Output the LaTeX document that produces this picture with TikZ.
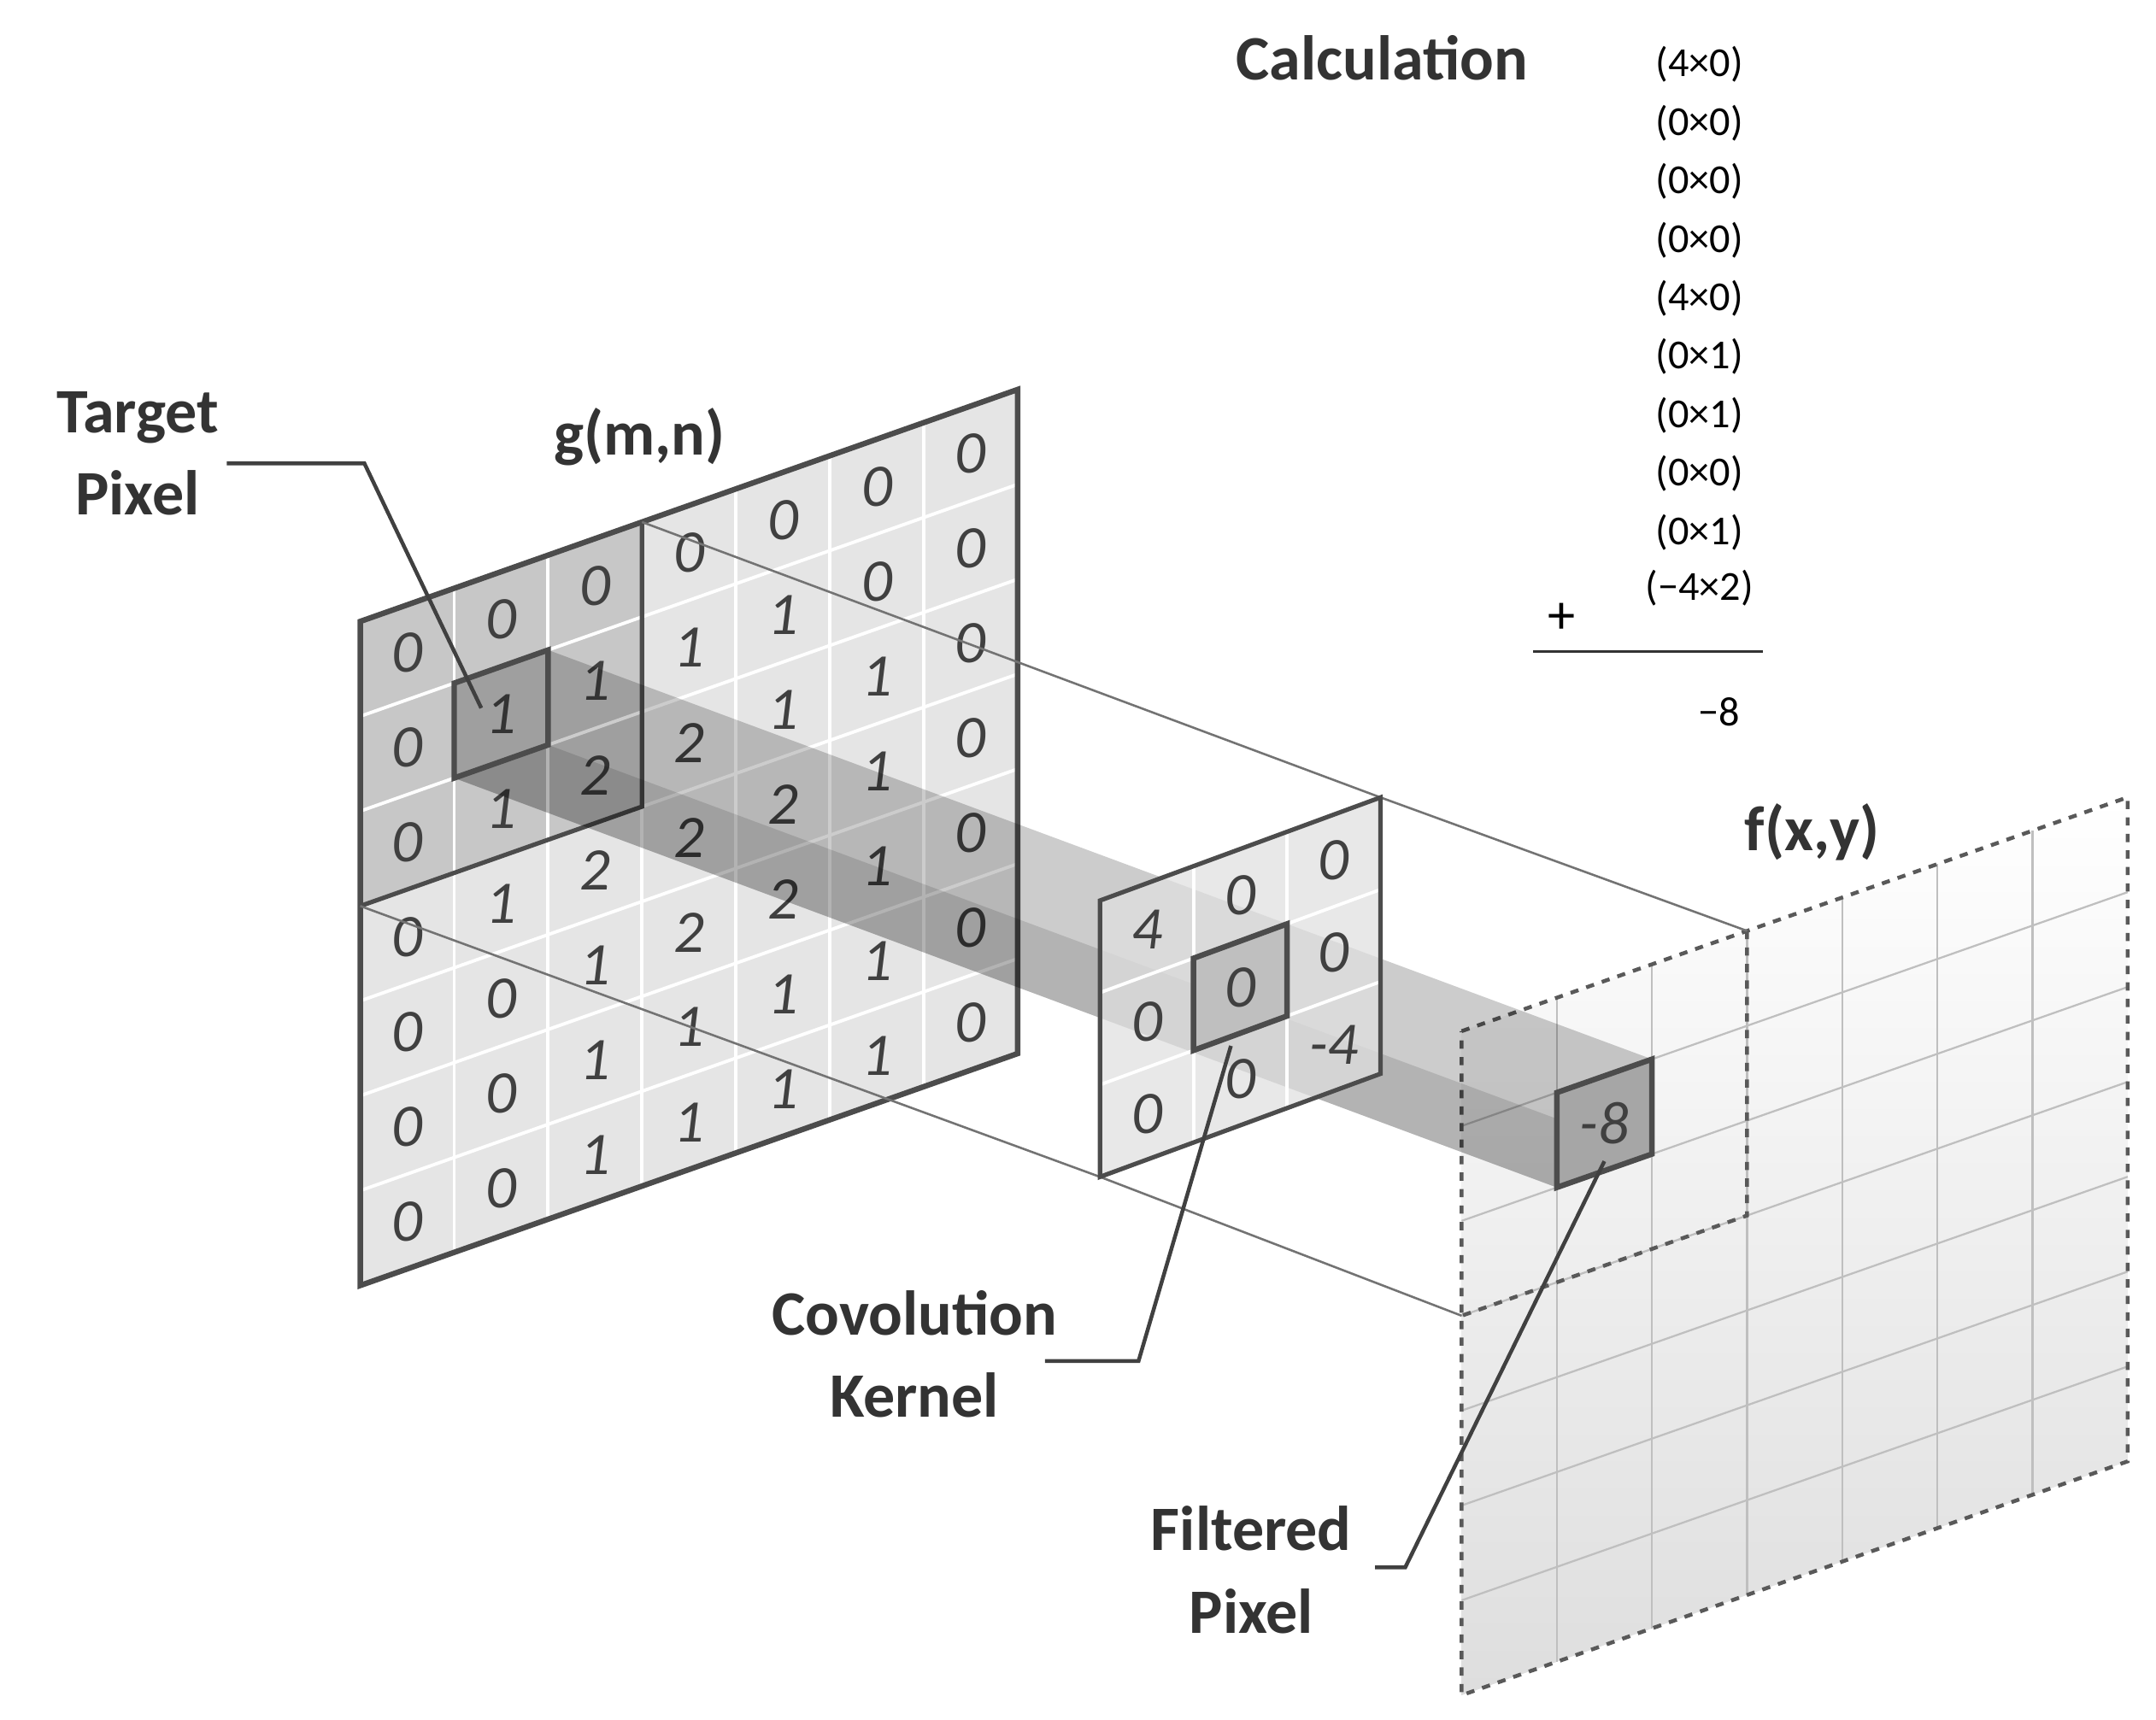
\documentclass[tikz,border=0pt]{standalone}
\usepackage{fontspec}
\setmainfont{Carlito}
\begin{document}
\begin{tikzpicture}[x=0.5pt,y=-0.5pt,
  dig/.style={font=\fontsize{22}{24}\selectfont\itshape, text=black!75},
  lab/.style={font=\fontsize{23}{26}\selectfont\bfseries, text=black!80, align=center},
  calc/.style={font=\fontsize{15}{17}\selectfont, text=black},
  frame/.style={draw=black!70, line width=1.6pt},
  proj/.style={draw=black!55, line width=0.8pt},
  leader/.style={draw=black!75, line width=1.4pt}]
\useasboundingbox (0,0) rectangle (1568,1251);

% ---------- g(m,n)
\begin{scope}[shift={(262,452)}, x={(34.15pt,12.05pt)}, y={(0pt,-34.5pt)}]
  \fill[black!10] (0,0)--(7,0)--(7,7)--(0,7)--cycle;
  \fill[black!22] (0,0)--(3,0)--(3,3)--(0,3)--cycle;
  \foreach \i in {1,...,6} {
    \draw[white, line width=1.2pt] (\i,0)--(\i,7);
    \draw[white, line width=1.2pt] (0,\i)--(7,\i);
  }
  \draw[frame] (0,0)--(3,0)--(3,3)--(0,3)--cycle;
  \draw[frame, line width=2pt] (0,0)--(7,0)--(7,7)--(0,7)--cycle;
  \coordinate (g11) at (1,1); \coordinate (g21) at (2,1);
  \coordinate (g22) at (2,2); \coordinate (g12) at (1,2);
  \coordinate (g30) at (3,0); \coordinate (g03) at (0,3);
  \foreach \r/\vals in {0/{0,0,0,0,0,0,0},1/{0,1,1,1,1,0,0},2/{0,1,2,2,1,1,0},
      3/{0,1,2,2,2,1,0},4/{0,0,1,2,2,1,0},5/{0,0,1,1,1,1,0},6/{0,0,1,1,1,1,0}}
    \foreach \v [count=\c from 0] in \vals
      \node[dig] (g-\r-\c) at (\c+.5,\r+.5) {\v};
\end{scope}

% ---------- kernel coords / output coords
\begin{scope}[shift={(800,655)}, x={(34pt,12.5pt)}, y={(0pt,-33.5pt)}]
  \coordinate (k30) at (3,0); \coordinate (k03) at (0,3);
\end{scope}
\begin{scope}[shift={(1063,750)}, x={(34.6pt,12.15pt)}, y={(0pt,-34.5pt)}]
  \coordinate (o11) at (1,1); \coordinate (o21) at (2,1);
  \coordinate (o22) at (2,2); \coordinate (o12) at (1,2);
  \coordinate (o30) at (3,0); \coordinate (o03) at (0,3);
\end{scope}

% ---------- output plane
\begin{scope}[shift={(1063,750)}, x={(34.6pt,12.15pt)}, y={(0pt,-34.5pt)}]
  \shade[top color=white, bottom color=black!13] (0,0)--(7,0)--(7,7)--(0,7)--cycle;
  \foreach \i in {1,...,6} {
    \draw[black!25, line width=0.7pt] (\i,0)--(\i,7);
    \draw[black!25, line width=0.7pt] (0,\i)--(7,\i);
  }
  \draw[black!65, dashed, line width=1.4pt] (0,0)--(7,0)--(7,7)--(0,7)--cycle;
  \draw[black!65, dashed, line width=1.4pt] (3,0)--(3,3)--(0,3);
\end{scope}

% ---------- projection lines
\draw[proj] (g30)--(k30)--(o30);
\draw[proj] (g03)--(k03)--(o03);

% ---------- beam
\fill[black, opacity=0.2] (g11)--(g21)--(o21)--(o22)--(o12)--(g12)--cycle;
\fill[black, opacity=0.12] (g12)--(g22)--(o22)--(o12)--cycle;
\draw[frame, line width=2pt] (g11)--(g21)--(g22)--(g12)--cycle;

% ---------- kernel
\begin{scope}[shift={(800,655)}, x={(34pt,12.5pt)}, y={(0pt,-33.5pt)}]
  \fill[black!12, opacity=0.75] (0,0)--(3,0)--(3,3)--(0,3)--cycle;
  \foreach \i in {1,2} {
    \draw[white, line width=1.2pt] (\i,0)--(\i,3);
    \draw[white, line width=1.2pt] (0,\i)--(3,\i);
  }
  \draw[frame] (0,0)--(3,0)--(3,3)--(0,3)--cycle;
  \draw[frame, line width=2pt, fill=black!25] (1,1)--(2,1)--(2,2)--(1,2)--cycle;
  \coordinate (kc) at (1.4,2.1);
  \foreach \r/\vals in {0/{4,0,0},1/{0,0,0},2/{0,0,-4}}
    \foreach \v [count=\c from 0] in \vals
      \node[dig] (k-\r-\c) at (\c+.5,\r+.5) {\v};
\end{scope}

% ---------- filtered pixel
\begin{scope}[shift={(1063,750)}, x={(34.6pt,12.15pt)}, y={(0pt,-34.5pt)}]
  \draw[frame, line width=2pt, fill=black!35] (1,1)--(2,1)--(2,2)--(1,2)--cycle;
  \node[dig] (fp) at (1.5,1.5) {-8};
  \coordinate (fpc) at (1.5,1.9);
\end{scope}

% ---------- labels
\node[lab] (tgt) at (100,330) {Target\\[4pt]Pixel};
\node[lab] (gmn) at (465,318) {g(m,n)};
\node[lab] (fxy) at (1318,605) {f(x,y)};
\node[lab] (ker) at (665,985) {Covolution\\[4pt]Kernel};
\node[lab] (fil) at (910,1142) {Filtered\\[4pt]Pixel};
\coordinate (t1) at (265,337);
\coordinate (t2) at (350,515);
\coordinate (kk1) at (828,990);
\coordinate (ff1) at (1022,1140);
\draw[leader] (165,337)--(t1)--(t2);
\draw[leader] (760,990)--(kk1)--(kc);
\draw[leader] (1000,1140)--(ff1)--(fpc);

% ---------- calculation
\node[lab] (calc) at (1005,42) {Calculation};
\foreach \t [count=\k from 0] in {(4×0),(0×0),(0×0),(0×0),(4×0),(0×1),(0×1),(0×0),(0×1)}
  \node[calc] (c\k) at (1236,47+42.5*\k) {\t};
\node[calc] (c9) at (1236,428) {(−4×2)};
\node[calc, font=\fontsize{20}{22}\selectfont] (plus) at (1136,450) {+};
\coordinate (r1) at (1115,474); \coordinate (r2) at (1282,474);
\draw[black!80, line width=0.9pt] (r1)--(r2);
\node[calc] (res) at (1250,518) {−8};
\end{tikzpicture}
\end{document}
